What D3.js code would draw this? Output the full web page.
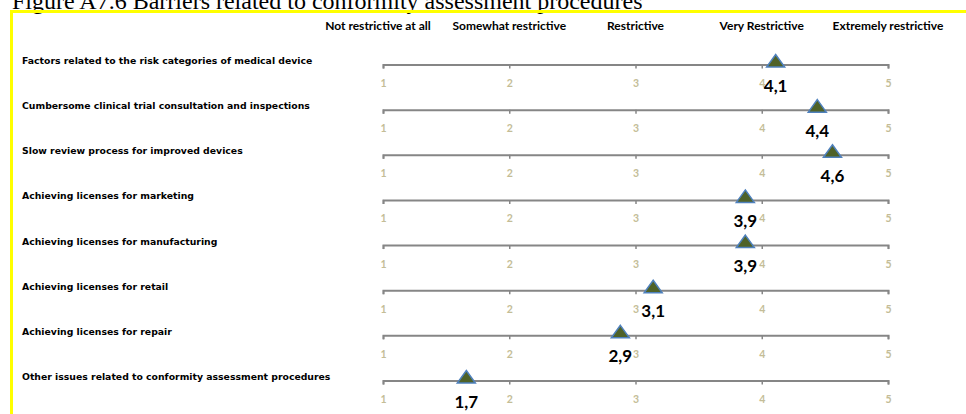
<!DOCTYPE html>
<html>
<head>
<meta charset="utf-8">
<script src="https://cdn.jsdelivr.net/npm/d3@7"></script>
<style>
  html, body { margin: 0; padding: 0; background: #fff; }
  svg { display: block; }
</style>
</head>
<body>
<script>
// ---- data ----
const title = "Figure A7.6 Barriers related to conformity assessment procedures";
const categories = [
  "Factors related to the risk categories of medical device",
  "Cumbersome clinical trial consultation and inspections",
  "Slow review process for improved devices",
  "Achieving licenses for marketing",
  "Achieving licenses for manufacturing",
  "Achieving licenses for retail",
  "Achieving licenses for repair",
  "Other issues related to conformity assessment procedures"
];
const values = [4.11, 4.44, 4.56, 3.87, 3.87, 3.14, 2.88, 1.66];
const scaleTicks = [1, 2, 3, 4, 5];
const scaleLabels = ["Not restrictive at all", "Somewhat restrictive", "Restrictive", "Very Restrictive", "Extremely restrictive"];

// ---- chart ----
const W = 966, H = 414;
const svg = d3.select("body").append("svg").attr("width", W).attr("height", H);

// title (cropped at top like the reference)
svg.append("text")
  .attr("x", 12).attr("y", 9)
  .attr("font-family", "'Liberation Serif', 'Times New Roman', serif")
  .attr("font-size", 24)
  .attr("fill", "#000")
  .text(title);

// yellow frame
svg.append("path")
  .attr("d", `M11.5,${H + 5} V11.5 H${W + 5}`)
  .attr("fill", "none")
  .attr("stroke", "#FFFF00")
  .attr("stroke-width", 3);

const x = d3.scaleLinear().domain([1, 5]).range([383, 888]);
const y = d3.scalePoint().domain(categories).range([60.5, 376.5]);
const axisOffset = 4;

// header labels
svg.append("g").selectAll("text")
  .data(scaleTicks)
  .join("text")
  .attr("x", d => x(d) - (d === 1 ? 5 : 0))
  .attr("y", 30)
  .attr("text-anchor", "middle")
  .attr("font-family", "Lato, 'Open Sans', sans-serif")
  .attr("font-weight", "bold")
  .attr("font-size", 12)
  .attr("fill", "#000")
  .text((d, i) => scaleLabels[i]);

// row labels
svg.append("g").selectAll("text")
  .data(categories)
  .join("text")
  .attr("x", 22)
  .attr("y", d => y(d) + 3.5)
  .attr("font-family", "'DejaVu Sans', Verdana, sans-serif")
  .attr("font-weight", "bold")
  .attr("font-size", 9.3)
  .attr("fill", "#000")
  .text(d => d);

// axes per row
const axis = d3.axisBottom(x)
  .tickValues(scaleTicks)
  .tickSize(4)
  .tickSizeOuter(4)
  .tickPadding(11)
  .tickFormat(d3.format("d"));

categories.forEach(c => {
  const g = svg.append("g")
    .attr("transform", `translate(0,${y(c) + axisOffset})`)
    .call(axis);
  g.select(".domain").attr("stroke", "#868686").attr("stroke-width", 2);
  g.selectAll(".tick line").attr("stroke", "#868686").attr("stroke-width", 1.5);
  g.selectAll(".tick text")
    .attr("fill", "#C4BD97")
    .attr("font-family", "Lato, 'Open Sans', sans-serif")
    .attr("font-weight", "bold")
    .attr("font-size", 10.5);
});

// triangle markers
const tri = {
  draw(ctx, size) {
    const w = 9, h = 12.5;
    ctx.moveTo(0, -h);
    ctx.lineTo(w, 0);
    ctx.lineTo(-w, 0);
    ctx.closePath();
  }
};
const pts = categories.map((c, i) => ({ c, v: values[i] }));

svg.append("g").selectAll("path")
  .data(pts)
  .join("path")
  .attr("d", d3.symbol(tri, 100))
  .attr("transform", d => `translate(${x(d.v)},${y(d.c) + axisOffset + 2.5})`)
  .attr("fill", "#4F6228")
  .attr("stroke", "#4F81BD")
  .attr("stroke-width", 1.5)
  .attr("stroke-linejoin", "miter");

const fmt = v => d3.format(".1f")(v).replace(".", ",");
svg.append("g").selectAll("text")
  .data(pts)
  .join("text")
  .attr("x", d => x(d.v))
  .attr("y", d => y(d.c) + axisOffset + 27)
  .attr("text-anchor", "middle")
  .attr("font-family", "Lato, 'Open Sans', sans-serif")
  .attr("font-weight", "bold")
  .attr("font-size", 17)
  .attr("fill", "#000")
  .text(d => fmt(d.v));
</script>
</body>
</html>
